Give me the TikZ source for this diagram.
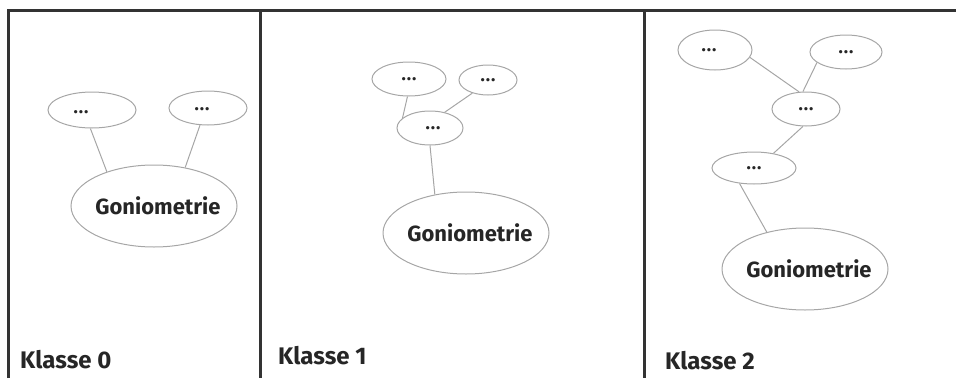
\documentclass[tikz,border=0pt]{standalone}
\usepackage{fontspec}
\setmainfont{Fira Sans}
\usepackage{tikz}
\usetikzlibrary{shapes.geometric}

\newcommand{\dotz}{.\kern1pt.\kern1pt.}
\newcommand{\gonitext}{\makebox[0pt]{\hspace*{8pt}Goniometrie}}

\begin{document}
\begin{tikzpicture}[x=1pt,y=-1pt,
 every node/.style={font=\bfseries,text=black!85},
 bub/.style={ellipse,draw=gray!70,line width=1pt,inner sep=0pt,font=\bfseries\fontsize{18}{18}\selectfont},
 gonio/.style={bub,minimum width=166pt,minimum height=82pt,font=\bfseries\fontsize{22}{22}\selectfont},
 frame/.style={draw=black!80,line width=3pt},
 lnk/.style={draw=gray!70,line width=1pt},
 klasse/.style={anchor=base west,inner sep=0pt,font=\bfseries\fontsize{24}{24}\selectfont}]
\useasboundingbox (0,0) rectangle (956,378);
% frames
\draw[frame] (8,378) |- (956,10.5);
\draw[frame] (260,10.5) -- (260,378);
\draw[frame] (644,10.5) -- (644,378);
% Klasse 0
\node[gonio] (g0) at (154,206) {\gonitext};
\node[bub,minimum width=88pt,minimum height=36pt] (a1) at (92,110) {\raisebox{-7pt}{\dotz}\hspace*{22pt}};
\node[bub,minimum width=78pt,minimum height=34pt] (a2) at (208,108) {\raisebox{-5pt}{\dotz}\hspace*{12pt}};
\draw[lnk] (a1.-95) -- (g0.144);
\draw[lnk] (a2.-115) -- (g0.51);
\node[klasse] (k0) at (20,368) {Klasse 0};
% Klasse 1
\node[gonio] (g1) at (466,233) {\gonitext};
\node[bub,minimum width=74pt,minimum height=34pt] (b1) at (409,79) {\dotz};
\node[bub,minimum width=58pt,minimum height=30pt] (b2) at (488,80) {\dotz};
\node[bub,minimum width=66pt,minimum height=34pt] (b3) at (430,128) {\hspace*{6pt}\dotz};
\draw[lnk] (b1.-95) -- (b3.160);
\draw[lnk] (b2.-140) -- (b3.47);
\draw[lnk] (b3.-90) -- (g1.129);
\node[klasse] (k1) at (278,364) {Klasse 1};
% Klasse 2
\node[gonio] (g2) at (805,269) {\gonitext};
\node[bub,minimum width=74pt,minimum height=40pt] (c1) at (715,50) {\dotz\hspace*{12pt}};
\node[bub,minimum width=72pt,minimum height=34pt] (c2) at (846,52) {\raisebox{-3pt}{\dotz}};
\node[bub,minimum width=68pt,minimum height=34pt] (c3) at (806,109) {\raisebox{-3pt}{\dotz}};
\node[bub,minimum width=84pt,minimum height=32pt] (c4) at (754,168) {\raisebox{-4pt}{\dotz}};
\draw[lnk] (c1.-12) -- (c3.112);
\draw[lnk] (c2.-160) -- (c3.100);
\draw[lnk] (c3.-100) -- (c4.37);
\draw[lnk] (c4.-133) -- (g2.136);
\node[klasse] (k2) at (665,369) {Klasse 2};
\end{tikzpicture}
\end{document}
